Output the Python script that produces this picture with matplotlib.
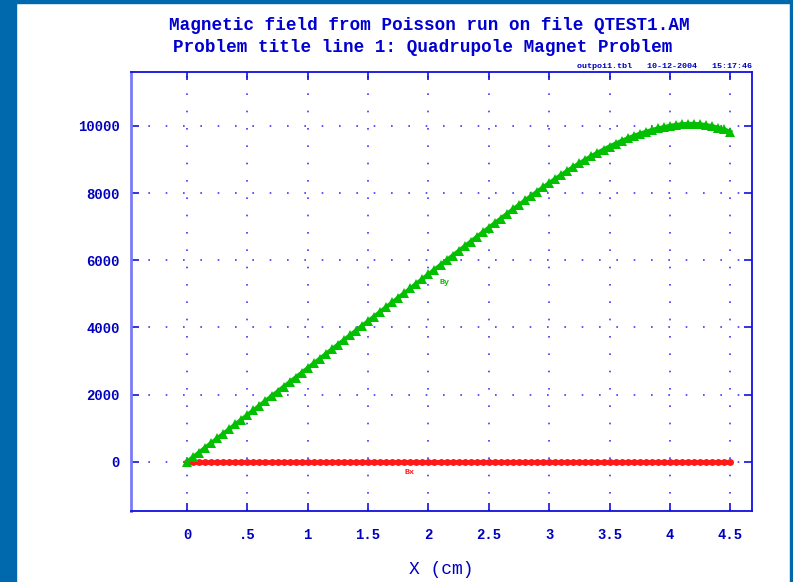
import numpy as np
import matplotlib
matplotlib.use("Agg")
import matplotlib.pyplot as plt
from matplotlib.patches import Rectangle

# mesh positions along the line (cm)
x_cm = np.linspace(0.0, 4.5, 91)

# By (gauss), one value per mesh point
by = [
    0, 140, 279, 419, 558, 698, 837, 977, 1116, 1256, 1395,
    1535, 1674, 1814, 1953, 2093, 2232, 2372, 2511, 2651, 2790,
    2930, 3069, 3209, 3348, 3488, 3627, 3767, 3906, 4046, 4185,
    4325, 4464, 4604, 4743, 4883, 5022, 5162, 5301, 5441, 5580,
    5719, 5858, 5997, 6136, 6275, 6414, 6553, 6691, 6829, 6967,
    7104, 7241, 7377, 7512, 7646, 7779, 7910, 8040, 8168, 8294,
    8418, 8539, 8657, 8772, 8884, 8992, 9096, 9196, 9292, 9383,
    9469, 9550, 9626, 9696, 9761, 9820, 9873, 9920, 9961, 9996,
    10025, 10046, 10057, 10056, 10043, 10020, 9987, 9944, 9890, 9820,
]
# Bx is zero along the whole line
bx = [0] * 91

x_ticks = [0, 0.5, 1, 1.5, 2, 2.5, 3, 3.5, 4, 4.5]
x_tick_labels = ["0", ".5", "1", "1.5", "2", "2.5", "3", "3.5", "4", "4.5"]
y_ticks = [0, 2000, 4000, 6000, 8000, 10000]

title_1 = "Magnetic field from Poisson run on file QTEST1.AM"
title_2 = "Problem title line 1: Quadrupole Magnet Problem"
stamp = "outpoi1.tbl   10-12-2004   15:17:46"

BLUE = "#1010e0"
FONT = "Liberation Mono"


def main():
    fig = plt.figure(figsize=(7.93, 5.82), dpi=100)
    fig.patch.set_facecolor("white")

    # blue frame of the slide
    border = "#0068ac"
    fig.add_artist(Rectangle((0, 0), 16 / 793, 1, transform=fig.transFigure,
                             color=border, zorder=0))
    fig.add_artist(Rectangle((0, 1 - 3 / 582), 1, 3 / 582, transform=fig.transFigure,
                             color=border, zorder=0))
    fig.add_artist(Rectangle((790 / 793, 0), 3 / 793, 1, transform=fig.transFigure,
                             color=border, zorder=0))

    ax = fig.add_axes([131 / 793, 1 - 511 / 582, 621 / 793, 439 / 582])
    ax.set_xlim(-0.464, 4.68)
    ax.set_ylim(-1460, 11600)

    ax.plot(x_cm, bx, color="#ff1a1a", lw=3.5, marker="o", ms=5,
            markeredgewidth=0, zorder=3)
    ax.plot(x_cm, by, color="#10b810", lw=3, marker="^", ms=7,
            markeredgewidth=0, markerfacecolor="#00c000", zorder=4)

    ax.text(2.13, 5330, "By", color="#10b810", fontsize=6, family=FONT,
            fontweight="bold", ha="center", va="center")
    ax.text(1.84, -300, "Bx", color="#ff1a1a", fontsize=6, family=FONT,
            fontweight="bold", ha="center", va="center")

    ax.set_xticks(x_ticks)
    ax.set_xticklabels(x_tick_labels)
    ax.set_yticks(y_ticks)
    ax.grid(True, color="#3a3aff", linestyle=(0, (1, 9.4)), lw=1.2)

    for spine in ax.spines.values():
        spine.set_color(BLUE)
        spine.set_linewidth(1.3)
    ax.spines["left"].set_color("#7a7af5")
    ax.spines["left"].set_linewidth(2.0)
    ax.tick_params(direction="in", top=True, right=True, length=6,
                   color=BLUE, width=1.2, labelcolor="#0000c0")
    ax.tick_params(axis="x", pad=12)
    ax.tick_params(axis="y", pad=8)
    for lab in ax.get_xticklabels() + ax.get_yticklabels():
        lab.set_family(FONT)
        lab.set_fontweight("bold")
        lab.set_fontsize(10)

    ax.set_xlabel("X (cm)", family=FONT, fontsize=13, color="#0000c0",
                  labelpad=14)

    fig.text(429 / 793, 1 - 25 / 582, title_1, family=FONT, fontsize=12.7,
             fontweight="bold", color="#0000d0", ha="center", va="center")
    fig.text(423 / 793, 1 - 48 / 582, title_2, family=FONT, fontsize=12.7,
             fontweight="bold", color="#0000d0", ha="center", va="center")
    fig.text(752 / 793, 1 - 66 / 582, stamp, family=FONT, fontsize=6,
             fontweight="bold", color="#0000c0", ha="right", va="center")

    fig.savefig("out.png", dpi=100, facecolor=fig.get_facecolor())


if __name__ == "__main__":
    main()
